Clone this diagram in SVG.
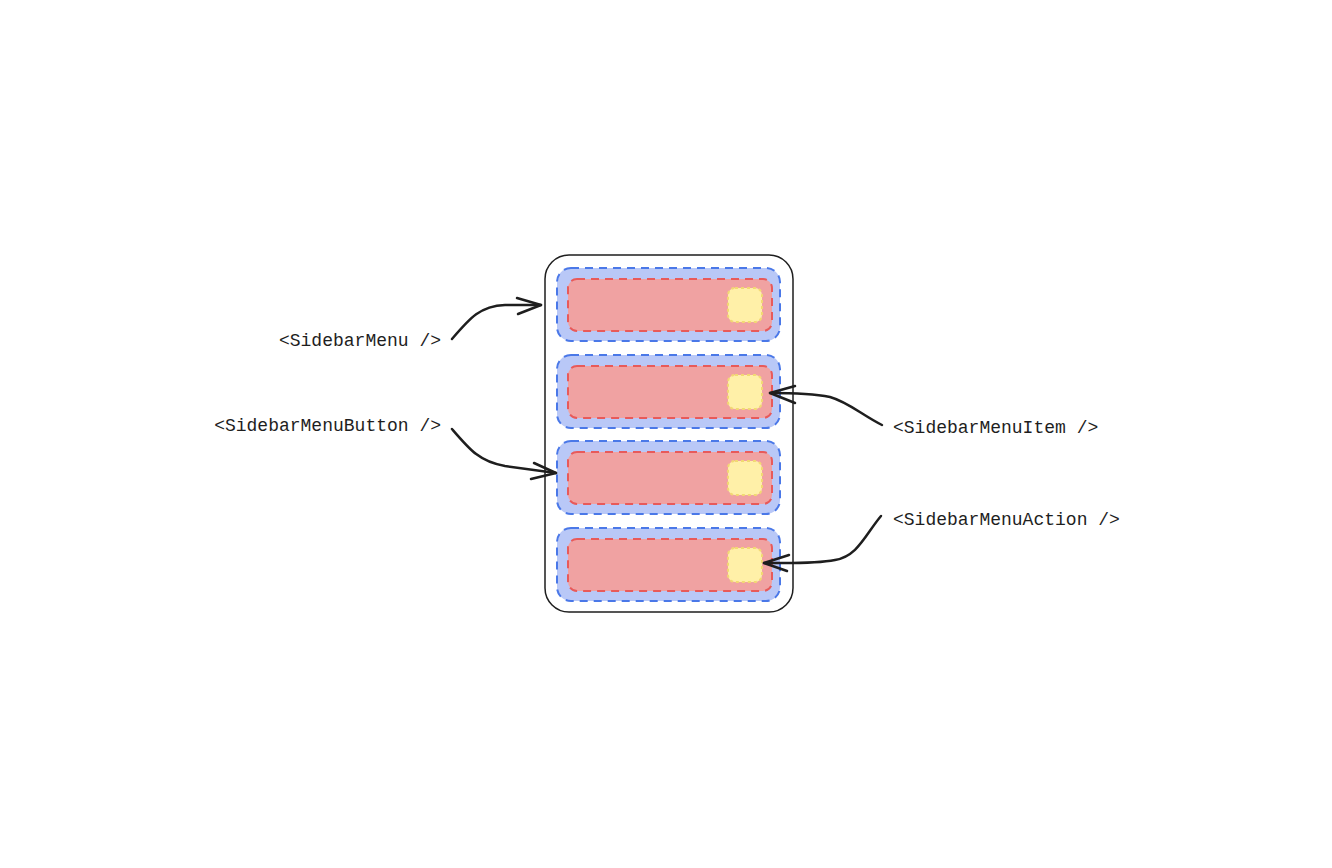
<svg xmlns="http://www.w3.org/2000/svg" width="1332" height="868" viewBox="0 0 1332 868">
<defs>
<style>
.outer{fill:none;stroke:#1e1e1e;stroke-width:1.5}
.blue{fill:#b9c8f7;stroke:#4a78e8;stroke-width:2;stroke-dasharray:8 6}
.red{fill:#f0a2a2;stroke:#e85a5a;stroke-width:2;stroke-dasharray:8 6}
.yel{fill:#fff0a8;stroke:#f2d873;stroke-width:2;stroke-dasharray:3 3}
.lbl{font-family:"Liberation Mono","DejaVu Sans Mono",monospace;font-size:18px;fill:#1e1e1e}
.conn{fill:none;stroke:#1e1e1e;stroke-width:2.5;stroke-linecap:round;stroke-linejoin:round}
</style>
</defs>
<rect width="1332" height="868" fill="#ffffff"/>
<g id="sidebar">
<rect class="outer" x="545" y="255" width="248" height="357" rx="24"/>
</g>
<g id="item1">
<rect class="blue" x="557" y="268" width="223" height="73" rx="14"/>
<rect class="red" x="568" y="279" width="204" height="52" rx="9"/>
<rect class="yel" x="728" y="288" width="34" height="34" rx="7"/>
</g>
<g id="item2">
<rect class="blue" x="557" y="355" width="223" height="73" rx="14"/>
<rect class="red" x="568" y="366" width="204" height="52" rx="9"/>
<rect class="yel" x="728" y="375" width="34" height="34" rx="7"/>
</g>
<g id="item3">
<rect class="blue" x="557" y="441" width="223" height="73" rx="14"/>
<rect class="red" x="568" y="452" width="204" height="52" rx="9"/>
<rect class="yel" x="728" y="461" width="34" height="34" rx="7"/>
</g>
<g id="item4">
<rect class="blue" x="557" y="528" width="223" height="73" rx="14"/>
<rect class="red" x="568" y="539" width="204" height="52" rx="9"/>
<rect class="yel" x="728" y="548" width="34" height="34" rx="7"/>
</g>
<g id="label-menu"><text class="lbl" x="441" y="346" text-anchor="end">&lt;SidebarMenu /&gt;</text></g>
<g id="label-button"><text class="lbl" x="441" y="431" text-anchor="end">&lt;SidebarMenuButton /&gt;</text></g>
<g id="label-item"><text class="lbl" x="893" y="433">&lt;SidebarMenuItem /&gt;</text></g>
<g id="label-action"><text class="lbl" x="893" y="525">&lt;SidebarMenuAction /&gt;</text></g>
<g id="connectors">
<path class="conn" d="M452,339 C470,318 480,306 505,305 L541,305"/>
<path class="conn" d="M517,298 L541,305 L518,314"/>
<path class="conn" d="M452,429 C470,450 480,462 505,466 L556,473"/>
<path class="conn" d="M534,463 L556,473 L531,479"/>
<path class="conn" d="M882,425 C862,415 848,402 830,397 C815,394 790,393 770,393"/>
<path class="conn" d="M795,386 L770,393 L795,403"/>
<path class="conn" d="M881,516 C865,535 858,556 835,560 C815,564 790,563 764,563"/>
<path class="conn" d="M789,555 L764,563 L787,571"/>
</g>
</svg>
